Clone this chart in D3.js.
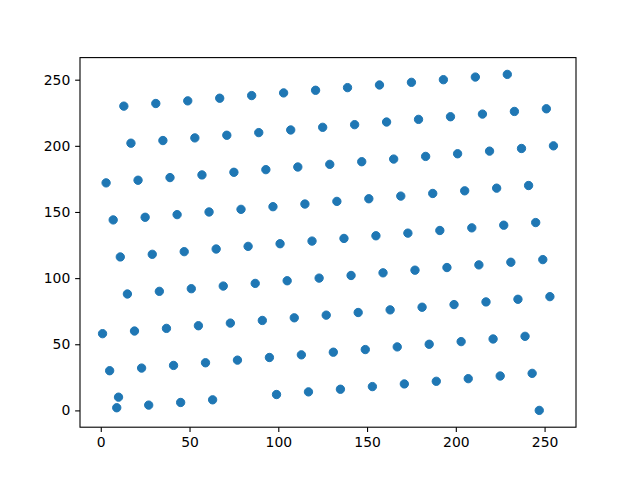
<!DOCTYPE html>
<html>
<head>
<meta charset="utf-8">
<script src="https://cdn.jsdelivr.net/npm/d3@7"></script>
<style>
  body { margin: 0; background: #fff; }
  .tick text { font-family: "DejaVu Sans", sans-serif; font-size: 13.9px; fill: #000; }
</style>
</head>
<body>
<div id="chart"></div>
<script>
// point coordinates, row by row (bottom lattice rows first)
var xs = [
  9, 27, 45, 63, 99, 117, 135, 153, 171, 189, 207, 225, 243, 247, 10,
  5, 23, 41, 59, 77, 95, 113, 131, 149, 167, 185, 203, 221, 239,
  1, 19, 37, 55, 73, 91, 109, 127, 145, 163, 181, 199, 217, 235, 253,
  15, 33, 51, 69, 87, 105, 123, 141, 159, 177, 195, 213, 231, 249,
  11, 29, 47, 65, 83, 101, 119, 137, 155, 173, 191, 209, 227, 245,
  7, 25, 43, 61, 79, 97, 115, 133, 151, 169, 187, 205, 223, 241,
  3, 21, 39, 57, 75, 93, 111, 129, 147, 165, 183, 201, 219, 237, 255,
  17, 35, 53, 71, 89, 107, 125, 143, 161, 179, 197, 215, 233, 251,
  13, 31, 49, 67, 85, 103, 121, 139, 157, 175, 193, 211, 229
];
var ys = [
  2, 4, 6, 8, 12, 14, 16, 18, 20, 22, 24, 26, 28, 0, 10,
  30, 32, 34, 36, 38, 40, 42, 44, 46, 48, 50, 52, 54, 56,
  58, 60, 62, 64, 66, 68, 70, 72, 74, 76, 78, 80, 82, 84, 86,
  88, 90, 92, 94, 96, 98, 100, 102, 104, 106, 108, 110, 112, 114,
  116, 118, 120, 122, 124, 126, 128, 130, 132, 134, 136, 138, 140, 142,
  144, 146, 148, 150, 152, 154, 156, 158, 160, 162, 164, 166, 168, 170,
  172, 174, 176, 178, 180, 182, 184, 186, 188, 190, 192, 194, 196, 198, 200,
  202, 204, 206, 208, 210, 212, 214, 216, 218, 220, 222, 224, 226, 228,
  230, 232, 234, 236, 238, 240, 242, 244, 246, 248, 250, 252, 254
];
var xTicks = [0, 50, 100, 150, 200, 250];
var yTicks = [0, 50, 100, 150, 200, 250];

var data = xs.map(function(d, i) { return {x: d, y: ys[i]}; });

// same box as a default matplotlib figure
var margin = {top: 57.6, right: 64, bottom: 52.8, left: 80},
    width = 640 - margin.left - margin.right,
    height = 480 - margin.top - margin.bottom;

var svg = d3.select("#chart")
  .append("svg")
    .attr("width", 640)
    .attr("height", 480)
  .append("g")
    .attr("transform", "translate(" + margin.left + "," + margin.top + ")");

// 5% padding around the data, like autoscale
var xe = d3.extent(xs), ye = d3.extent(ys);
var xp = (xe[1] - xe[0]) * 0.05, yp = (ye[1] - ye[0]) * 0.05;

var x = d3.scaleLinear()
  .domain([xe[0] - xp, xe[1] + xp])
  .range([0, width]);
var y = d3.scaleLinear()
  .domain([ye[0] - yp, ye[1] + yp])
  .range([height, 0]);

// Add dots
svg.append("g")
  .selectAll("circle")
  .data(data)
  .enter()
  .append("circle")
    .attr("cx", function(d) { return x(d.x); })
    .attr("cy", function(d) { return y(d.y); })
    .attr("r", 4.17)
    .style("fill", "#1f77b4")
    .style("stroke", "#1f77b4")
    .style("stroke-width", 1);

// axes
var xAxis = svg.append("g")
  .attr("transform", "translate(0," + height + ")")
  .call(d3.axisBottom(x).tickValues(xTicks).tickSize(4.86).tickPadding(4.9));
var yAxis = svg.append("g")
  .call(d3.axisLeft(y).tickValues(yTicks).tickSize(4.86).tickPadding(4.9));

[xAxis, yAxis].forEach(function(a) {
  a.select(".domain").remove();
  a.selectAll(".tick line").attr("stroke", "#000").attr("stroke-width", 1.1);
});

// frame
svg.append("rect")
  .attr("x", 0).attr("y", 0)
  .attr("width", width).attr("height", height)
  .style("fill", "none")
  .style("stroke", "#000")
  .style("stroke-width", 1.1);
</script>
</body>
</html>
